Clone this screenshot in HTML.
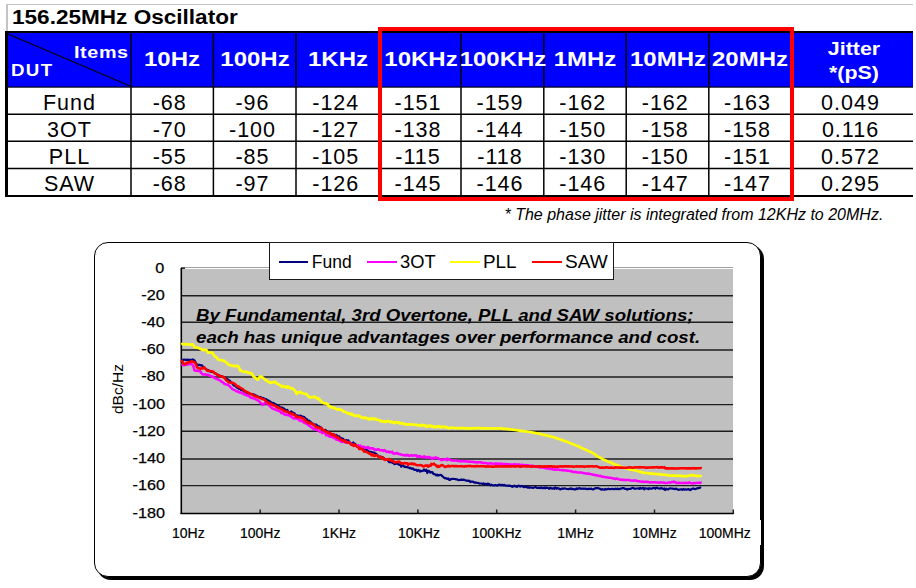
<!DOCTYPE html>
<html><head><meta charset="utf-8"><title>156.25MHz Oscillator</title>
<style>
*{margin:0;padding:0;box-sizing:border-box}
html,body{width:916px;height:588px;overflow:hidden;background:#fff}
body{position:relative;font-family:'Liberation Sans', Arial, sans-serif;color:#000}
.a{position:absolute}
.t{position:absolute;white-space:nowrap;line-height:1}
.hl{position:absolute;background:#000}
.hd{font-weight:bold;color:#fff;font-size:20.5px;transform:scaleX(1.17)}
.dt{font-size:21.5px;letter-spacing:1px;text-indent:1px}
</style></head><body>

<div class="a" style="left:6px;top:4px;width:907px;height:1px;background:#c4c4c4"></div>
<div class="a" style="left:6px;top:4px;width:1.5px;height:28px;background:#c4c4c4"></div>
<div class="t" style="left:11.5px;top:7px;font-weight:bold;font-size:20px;transform:scaleX(1.128);transform-origin:left center">156.25MHz Oscillator</div>
<div class="a" style="left:5px;top:31px;width:908px;height:56px;background:#0000fe"></div>
<svg class="a" style="left:0;top:0" width="916" height="210">
<rect x="5" y="31" width="908" height="2" fill="#000"/>
<rect x="5" y="31" width="3" height="166" fill="#000"/>
<rect x="5" y="86.5" width="908" height="1.2" fill="#000010"/>
<line x1="5" y1="114.15" x2="913" y2="114.15" stroke="#000" stroke-width="1.5"/>
<line x1="5" y1="141.35" x2="913" y2="141.35" stroke="#000" stroke-width="1.5"/>
<line x1="5" y1="168.5" x2="913" y2="168.5" stroke="#000" stroke-width="1.5"/>
<rect x="5" y="195" width="908" height="2" fill="#000"/>
<line x1="131.0" y1="31" x2="131.0" y2="197" stroke="#000" stroke-width="1.5"/>
<line x1="213.4" y1="31" x2="213.4" y2="197" stroke="#000" stroke-width="1.5"/>
<line x1="296.0" y1="31" x2="296.0" y2="197" stroke="#000" stroke-width="1.5"/>
<line x1="380.0" y1="31" x2="380.0" y2="197" stroke="#000" stroke-width="1.5"/>
<line x1="461.0" y1="31" x2="461.0" y2="197" stroke="#000" stroke-width="1.5"/>
<line x1="543.8" y1="31" x2="543.8" y2="197" stroke="#000" stroke-width="1.5"/>
<line x1="626.2" y1="31" x2="626.2" y2="197" stroke="#000" stroke-width="1.5"/>
<line x1="708.8" y1="31" x2="708.8" y2="197" stroke="#000" stroke-width="1.5"/>
<line x1="791.0" y1="31" x2="791.0" y2="197" stroke="#000" stroke-width="1.5"/>
<line x1="8" y1="34" x2="130" y2="86" stroke="#000" stroke-width="1.1"/>
</svg>
<div class="t hd" style="left:74px;top:44px;font-size:16.5px;letter-spacing:0.5px;transform:scaleX(1.2);transform-origin:left center">Items</div>
<div class="t hd" style="left:10.8px;top:61.5px;font-size:17px;letter-spacing:1.2px;transform:scaleX(1.1);transform-origin:left center">DUT</div>
<div class="t hd" style="left:112.25px;width:120px;text-align:center;top:48.8px">10Hz</div>
<div class="t hd" style="left:195.0px;width:120px;text-align:center;top:48.8px">100Hz</div>
<div class="t hd" style="left:278.25px;width:120px;text-align:center;top:48.8px">1KHz</div>
<div class="t hd" style="left:360.5px;width:120px;text-align:center;top:48.8px">10KHz</div>
<div class="t hd" style="left:442.5px;width:120px;text-align:center;top:48.8px">100KHz</div>
<div class="t hd" style="left:525.25px;width:120px;text-align:center;top:48.8px">1MHz</div>
<div class="t hd" style="left:607.75px;width:120px;text-align:center;top:48.8px">10MHz</div>
<div class="t hd" style="left:690.0px;width:120px;text-align:center;top:48.8px">20MHz</div>
<div class="t hd" style="left:793.5px;width:120px;text-align:center;top:40px;font-size:18px;transform:scaleX(1.19)">Jitter</div>
<div class="t hd" style="left:793.5px;width:120px;text-align:center;top:64px;font-size:18px;transform:scaleX(1.19)">*(pS)</div>
<div class="t dt" style="left:9.0px;width:120px;text-align:center;top:93.2px">Fund</div>
<div class="t dt" style="left:109.25px;width:120px;text-align:center;top:93.2px">-68</div>
<div class="t dt" style="left:192.0px;width:120px;text-align:center;top:93.2px">-96</div>
<div class="t dt" style="left:275.25px;width:120px;text-align:center;top:93.2px">-124</div>
<div class="t dt" style="left:357.5px;width:120px;text-align:center;top:93.2px">-151</div>
<div class="t dt" style="left:439.5px;width:120px;text-align:center;top:93.2px">-159</div>
<div class="t dt" style="left:522.25px;width:120px;text-align:center;top:93.2px">-162</div>
<div class="t dt" style="left:604.75px;width:120px;text-align:center;top:93.2px">-162</div>
<div class="t dt" style="left:687.0px;width:120px;text-align:center;top:93.2px">-163</div>
<div class="t dt" style="left:790.0px;width:120px;text-align:center;top:93.2px">0.049</div>
<div class="t dt" style="left:9.0px;width:120px;text-align:center;top:120.2px">3OT</div>
<div class="t dt" style="left:109.25px;width:120px;text-align:center;top:120.2px">-70</div>
<div class="t dt" style="left:192.0px;width:120px;text-align:center;top:120.2px">-100</div>
<div class="t dt" style="left:275.25px;width:120px;text-align:center;top:120.2px">-127</div>
<div class="t dt" style="left:357.5px;width:120px;text-align:center;top:120.2px">-138</div>
<div class="t dt" style="left:439.5px;width:120px;text-align:center;top:120.2px">-144</div>
<div class="t dt" style="left:522.25px;width:120px;text-align:center;top:120.2px">-150</div>
<div class="t dt" style="left:604.75px;width:120px;text-align:center;top:120.2px">-158</div>
<div class="t dt" style="left:687.0px;width:120px;text-align:center;top:120.2px">-158</div>
<div class="t dt" style="left:790.0px;width:120px;text-align:center;top:120.2px">0.116</div>
<div class="t dt" style="left:9.0px;width:120px;text-align:center;top:147.2px">PLL</div>
<div class="t dt" style="left:109.25px;width:120px;text-align:center;top:147.2px">-55</div>
<div class="t dt" style="left:192.0px;width:120px;text-align:center;top:147.2px">-85</div>
<div class="t dt" style="left:275.25px;width:120px;text-align:center;top:147.2px">-105</div>
<div class="t dt" style="left:357.5px;width:120px;text-align:center;top:147.2px">-115</div>
<div class="t dt" style="left:439.5px;width:120px;text-align:center;top:147.2px">-118</div>
<div class="t dt" style="left:522.25px;width:120px;text-align:center;top:147.2px">-130</div>
<div class="t dt" style="left:604.75px;width:120px;text-align:center;top:147.2px">-150</div>
<div class="t dt" style="left:687.0px;width:120px;text-align:center;top:147.2px">-151</div>
<div class="t dt" style="left:790.0px;width:120px;text-align:center;top:147.2px">0.572</div>
<div class="t dt" style="left:9.0px;width:120px;text-align:center;top:174.2px">SAW</div>
<div class="t dt" style="left:109.25px;width:120px;text-align:center;top:174.2px">-68</div>
<div class="t dt" style="left:192.0px;width:120px;text-align:center;top:174.2px">-97</div>
<div class="t dt" style="left:275.25px;width:120px;text-align:center;top:174.2px">-126</div>
<div class="t dt" style="left:357.5px;width:120px;text-align:center;top:174.2px">-145</div>
<div class="t dt" style="left:439.5px;width:120px;text-align:center;top:174.2px">-146</div>
<div class="t dt" style="left:522.25px;width:120px;text-align:center;top:174.2px">-146</div>
<div class="t dt" style="left:604.75px;width:120px;text-align:center;top:174.2px">-147</div>
<div class="t dt" style="left:687.0px;width:120px;text-align:center;top:174.2px">-147</div>
<div class="t dt" style="left:790.0px;width:120px;text-align:center;top:174.2px">0.295</div>
<div class="a" style="left:378px;top:27px;width:416px;height:174px;border:4px solid #ff0000"></div>
<div class="t" style="left:504.5px;top:207px;font-style:italic;font-size:16px">* The phase jitter is integrated from 12KHz to 20MHz.</div>
<div class="a" style="left:93.5px;top:242px;width:667.5px;height:335px;border:1.5px solid #000;border-radius:14px;box-shadow:3px 3px 0 #000;background:#fff"></div>
<svg class="a" style="left:0;top:0" width="916" height="588" viewBox="0 0 916 588">
<rect x="181" y="268" width="552" height="245" fill="#c0c0c0"/>
<line x1="181" y1="267.5" x2="733" y2="267.5" stroke="#a0a0a0" stroke-width="1"/>
<line x1="183" y1="268.5" x2="733" y2="268.5" stroke="#ffffff" stroke-width="1"/>
<line x1="181" y1="295.8" x2="733" y2="295.8" stroke="#1e1e1e" stroke-width="1.4"/>
<line x1="181" y1="322.3" x2="733" y2="322.3" stroke="#1e1e1e" stroke-width="1.4"/>
<line x1="181" y1="350.0" x2="733" y2="350.0" stroke="#1e1e1e" stroke-width="1.4"/>
<line x1="181" y1="377.0" x2="733" y2="377.0" stroke="#1e1e1e" stroke-width="1.4"/>
<line x1="181" y1="404.6" x2="733" y2="404.6" stroke="#1e1e1e" stroke-width="1.4"/>
<line x1="181" y1="431.2" x2="733" y2="431.2" stroke="#1e1e1e" stroke-width="1.4"/>
<line x1="181" y1="459.0" x2="733" y2="459.0" stroke="#1e1e1e" stroke-width="1.4"/>
<line x1="181" y1="485.6" x2="733" y2="485.6" stroke="#1e1e1e" stroke-width="1.4"/>
<line x1="181" y1="268.2" x2="185" y2="268.2" stroke="#000" stroke-width="1.2"/>
<line x1="260.2" y1="509.5" x2="260.2" y2="514" stroke="#222" stroke-width="1.5"/>
<line x1="339.0" y1="509.5" x2="339.0" y2="514" stroke="#222" stroke-width="1.5"/>
<line x1="417.9" y1="509.5" x2="417.9" y2="514" stroke="#222" stroke-width="1.5"/>
<line x1="496.7" y1="509.5" x2="496.7" y2="514" stroke="#222" stroke-width="1.5"/>
<line x1="575.6" y1="509.5" x2="575.6" y2="514" stroke="#222" stroke-width="1.5"/>
<line x1="654.5" y1="509.5" x2="654.5" y2="514" stroke="#222" stroke-width="1.5"/>
<line x1="733.3" y1="509.5" x2="733.3" y2="514" stroke="#222" stroke-width="1.5"/>
<line x1="181.3" y1="268" x2="181.3" y2="514" stroke="#000" stroke-width="1.6"/>
<line x1="180.5" y1="513.4" x2="733.5" y2="513.4" stroke="#000" stroke-width="1.5"/>
<polyline fill="none" stroke="#000080" stroke-width="2.2" stroke-linejoin="round" points="181.3,359.9 182.3,359.9 183.3,359.9 184.3,359.5 185.3,359.9 186.3,359.9 187.3,359.6 188.3,359.8 189.3,359.8 190.3,359.8 191.3,359.9 192.3,360.0 192.8,359.5 193.3,359.8 194.3,360.3 194.5,360.6 195.3,361.9 196.3,363.5 197.0,364.6 197.3,364.8 198.3,364.9 199.3,364.8 200.3,365.3 201.3,365.2 202.3,365.6 203.0,366.6 203.3,367.1 204.3,367.6 205.3,368.6 206.3,369.4 207.2,370.3 207.3,369.8 208.3,370.3 209.3,371.1 210.3,371.4 211.3,371.9 212.3,372.0 213.3,372.1 214.0,372.6 214.3,372.9 215.3,373.3 216.3,374.0 217.3,374.6 218.3,374.9 219.3,375.4 220.3,375.8 221.3,376.0 222.3,376.5 223.3,377.1 224.2,377.6 224.3,377.5 225.3,377.7 226.3,378.7 227.3,379.1 228.3,380.1 229.3,380.3 230.0,381.1 230.3,381.4 231.3,382.3 232.3,383.6 233.3,384.8 234.1,385.6 234.3,385.5 235.3,386.0 236.3,387.1 237.3,387.7 238.3,388.4 239.3,389.0 240.2,389.1 240.3,389.3 241.3,390.0 242.3,390.3 243.3,390.6 244.3,391.5 245.3,392.0 246.3,392.6 246.4,392.5 247.3,392.7 248.3,393.3 249.3,393.5 250.3,394.1 251.3,394.2 252.3,394.1 253.3,394.3 254.3,394.9 254.5,394.9 255.3,395.1 256.3,395.7 257.3,396.3 258.3,396.6 259.3,397.0 260.0,397.1 260.3,397.1 261.3,397.5 262.3,398.1 263.3,398.0 264.3,398.7 265.3,399.2 266.3,399.2 266.8,399.7 267.3,399.9 268.3,400.5 269.3,401.0 270.3,401.7 271.3,402.4 272.3,402.9 273.3,403.2 273.6,403.0 274.3,404.0 275.3,404.1 276.3,404.5 277.3,405.3 278.3,405.8 279.3,406.5 280.3,407.3 281.3,407.5 282.3,407.7 283.3,408.8 284.3,408.5 285.3,410.0 286.3,411.1 287.2,410.2 287.3,409.9 288.3,412.1 289.3,413.2 290.3,411.8 291.3,411.4 292.3,412.8 293.3,412.7 294.3,413.3 295.3,414.5 296.3,415.6 297.3,415.4 298.3,416.0 299.3,415.8 300.3,415.6 300.8,415.9 301.3,415.9 302.3,417.1 303.3,416.7 304.3,417.0 305.3,419.0 306.3,418.9 307.3,419.9 308.3,421.0 309.3,420.7 310.3,421.7 311.3,422.5 312.3,423.4 313.3,423.9 314.3,425.2 314.4,424.6 315.3,424.6 316.3,424.7 317.3,425.5 318.3,427.3 319.3,426.4 320.3,428.1 321.3,427.6 322.3,429.3 323.3,430.4 324.3,430.0 325.3,429.9 326.3,430.9 327.3,431.3 328.0,432.0 328.3,433.2 329.3,433.0 330.3,433.3 331.3,433.9 332.3,434.1 333.3,434.3 334.3,434.8 335.3,435.4 336.3,434.8 337.3,437.0 338.3,436.3 339.3,436.4 340.0,437.8 340.3,438.1 341.3,438.2 342.3,438.7 343.3,438.8 344.3,441.6 345.3,441.2 346.3,440.1 347.3,440.6 348.2,441.1 348.3,440.3 349.3,442.2 350.3,442.5 351.3,444.0 352.3,444.2 353.3,442.5 354.3,444.2 355.3,443.9 356.3,446.0 357.3,445.9 358.3,446.8 359.3,446.4 360.3,448.3 361.3,448.8 362.3,447.9 363.3,449.1 364.3,449.5 365.3,450.3 366.3,449.7 367.2,452.0 367.3,450.3 368.3,451.2 369.3,452.1 370.3,451.8 371.3,451.9 372.3,452.3 373.3,452.8 374.3,452.7 375.3,453.4 376.3,454.0 377.3,455.1 378.1,455.6 378.3,456.0 379.3,457.0 380.3,456.5 381.3,456.9 382.3,457.2 383.3,457.8 384.3,458.4 385.3,459.9 386.3,459.3 387.3,460.0 388.3,461.1 389.3,462.2 390.3,462.2 391.3,461.6 392.3,462.8 393.3,463.2 394.3,462.9 394.4,464.2 395.3,463.9 396.3,463.2 397.3,463.8 398.3,464.2 399.3,464.8 400.3,464.5 401.3,466.7 402.3,465.6 403.3,465.6 404.3,466.8 405.3,466.7 406.3,467.2 407.3,466.9 408.3,467.6 409.3,468.1 410.3,467.8 411.3,468.8 412.3,468.4 413.3,468.5 413.5,469.3 414.3,469.8 415.3,469.8 416.3,469.7 417.3,471.1 418.3,470.0 419.3,470.7 420.0,471.7 420.3,470.7 421.3,471.2 422.3,470.9 423.3,470.7 424.0,469.5 424.3,470.0 425.3,470.9 426.3,469.7 427.3,473.0 428.3,470.9 429.3,471.1 430.3,472.6 431.3,472.2 432.3,472.1 433.3,473.7 433.6,474.1 434.3,474.0 435.3,474.4 436.3,475.4 437.3,474.6 438.3,475.6 439.3,475.2 440.3,474.8 441.3,475.1 442.3,476.3 443.3,476.9 444.3,478.2 445.3,478.1 446.3,478.6 447.2,478.6 447.3,479.0 448.3,478.4 449.3,480.0 450.3,479.8 451.3,478.9 452.3,479.0 453.3,478.9 454.3,479.0 455.3,479.0 456.3,479.5 457.3,479.3 458.3,480.2 459.3,480.0 460.3,479.9 460.8,480.0 461.3,479.4 462.3,480.0 463.3,479.7 464.3,479.9 465.3,480.3 466.3,480.6 467.3,480.5 468.3,481.0 469.3,480.7 470.3,482.0 471.3,481.5 472.3,481.6 473.3,481.9 474.3,482.5 474.4,482.7 475.3,482.4 476.3,482.7 477.3,483.0 478.3,482.9 479.3,483.6 480.3,483.5 481.3,483.5 482.3,483.9 483.3,483.4 484.3,484.1 485.3,483.8 486.3,484.0 487.3,484.4 488.0,483.5 488.3,484.3 489.3,484.2 490.3,485.4 491.3,484.6 492.3,485.2 493.3,485.4 493.5,485.5 494.3,485.5 495.3,485.0 496.3,485.3 497.3,485.7 498.3,485.0 499.3,484.5 500.0,485.2 500.3,484.9 501.3,485.3 502.3,484.8 503.3,485.4 504.3,484.9 505.3,485.6 506.3,485.5 507.3,485.7 508.3,485.9 509.3,485.6 510.3,485.8 511.3,486.2 512.3,486.8 513.3,486.4 514.3,485.7 515.3,486.3 516.3,486.4 517.3,486.9 518.3,485.6 519.3,485.9 520.3,486.7 521.3,485.9 522.3,486.3 523.3,486.9 524.3,487.2 525.3,486.7 526.3,486.9 527.2,487.1 527.3,487.6 528.3,487.1 529.3,487.8 530.3,487.3 531.3,487.6 532.3,487.6 533.3,487.8 534.3,487.4 535.3,486.9 536.3,487.4 537.3,487.9 538.3,487.8 539.3,487.7 540.3,488.1 541.3,487.4 542.3,488.2 543.3,488.2 544.3,487.5 545.3,488.3 546.3,487.4 547.3,487.9 548.3,488.0 549.3,488.8 550.3,487.6 551.3,488.3 552.3,488.6 553.3,488.3 554.3,488.8 554.4,487.9 555.3,487.4 556.3,488.7 557.3,488.1 558.3,488.6 559.3,488.5 560.3,489.5 561.3,489.1 562.3,488.4 563.3,488.8 564.3,488.4 565.3,488.5 566.3,488.8 567.3,489.0 568.3,489.1 569.3,488.9 570.3,488.4 571.3,489.1 572.3,488.6 573.3,489.2 574.3,489.3 575.3,489.4 576.3,488.5 577.3,489.2 578.3,488.4 579.3,488.3 580.0,488.2 580.3,488.7 581.3,488.8 582.3,488.5 583.3,488.6 584.3,488.8 585.3,488.5 586.3,488.9 587.3,489.2 588.3,488.7 589.3,488.8 590.3,488.8 591.3,488.6 592.3,489.2 593.3,489.5 594.3,488.7 595.3,488.3 596.3,488.1 597.3,488.1 598.3,488.2 599.3,488.6 600.3,488.8 601.3,489.7 602.3,489.1 603.3,489.5 604.3,489.8 605.3,488.9 606.3,489.4 607.3,489.1 608.3,488.7 609.3,489.1 610.3,489.2 611.3,489.0 612.3,488.8 613.3,489.1 614.3,489.1 615.3,488.7 616.3,489.2 617.3,488.6 618.3,489.1 619.3,489.2 620.0,488.9 620.3,488.7 621.3,488.6 622.3,488.2 623.3,488.1 624.3,488.4 625.3,488.9 626.3,488.8 627.3,489.7 628.3,488.8 629.3,489.0 630.3,488.9 631.3,488.4 632.3,487.9 633.3,487.9 634.3,488.6 635.3,488.8 636.3,488.5 637.3,488.5 638.3,488.3 639.3,488.9 640.3,487.8 641.3,488.6 642.3,488.3 643.3,487.8 644.3,489.4 645.3,488.2 646.3,488.5 647.3,488.6 648.3,489.1 649.3,488.1 650.3,488.7 651.3,488.6 652.3,488.5 653.3,487.8 654.3,487.9 655.3,488.8 656.3,487.6 657.3,487.9 658.3,488.3 659.3,488.6 660.3,488.4 660.4,488.5 661.3,487.8 662.3,488.6 663.3,488.9 664.3,488.4 664.5,489.8 665.3,490.0 666.3,488.7 667.3,489.2 668.3,489.5 669.3,488.5 670.3,488.3 671.3,488.5 672.3,488.6 673.3,488.7 674.3,489.1 675.3,488.9 676.3,488.7 677.3,489.3 678.3,489.8 679.3,489.6 680.3,489.5 681.3,489.2 682.3,489.8 683.3,489.0 684.3,489.7 685.3,489.3 686.3,489.6 687.3,489.5 688.3,489.0 689.3,489.7 690.3,490.1 691.0,489.4 691.3,489.2 692.3,488.8 693.3,488.4 694.3,489.0 695.3,489.1 696.3,488.7 697.3,488.3 698.3,488.1 699.3,487.9 700.3,487.5 701.2,487.8"/>
<polyline fill="none" stroke="#ff00ff" stroke-width="2.5" stroke-linejoin="round" points="181.3,364.2 182.3,364.6 183.3,365.3 184.3,365.2 185.3,364.6 186.3,364.8 187.3,364.5 188.3,364.4 189.3,363.8 190.3,364.0 191.3,363.9 191.9,364.2 192.3,364.7 193.3,366.3 193.6,366.4 194.3,370.2 194.5,370.3 195.3,370.8 196.3,370.6 197.3,370.7 198.3,371.0 199.3,371.1 200.3,371.5 200.4,371.4 201.3,373.1 202.1,373.7 202.3,374.2 203.3,374.4 204.3,374.6 205.3,374.3 206.3,374.7 207.3,374.8 208.1,374.7 208.3,375.1 209.3,375.4 210.3,376.0 211.3,376.3 212.3,376.4 213.3,377.0 214.3,377.7 215.3,378.5 216.3,379.0 216.6,378.9 217.3,379.1 218.3,379.5 219.3,380.1 220.3,380.5 220.8,381.0 221.3,381.6 222.3,382.0 223.3,382.8 224.3,383.7 225.1,384.2 225.3,384.2 226.3,384.6 227.3,384.8 228.0,384.6 228.3,385.1 229.3,385.8 230.3,386.9 231.3,388.0 232.1,388.9 232.3,389.0 233.3,389.5 234.3,389.9 235.3,390.6 236.2,390.9 236.3,391.3 237.3,391.4 238.3,391.6 239.3,392.5 240.3,392.5 241.3,392.6 242.3,393.5 243.3,393.6 244.3,394.4 245.3,394.7 246.3,395.3 247.3,395.5 247.4,395.3 248.3,395.9 249.3,396.5 250.3,397.2 251.3,398.1 252.3,397.8 252.5,398.1 253.3,398.3 254.3,398.7 255.3,399.1 256.3,399.6 257.3,400.1 258.3,400.7 258.6,401.0 259.3,401.5 260.3,402.7 261.3,403.4 262.3,404.4 262.7,405.0 263.3,404.5 264.3,403.6 265.3,402.7 265.8,402.2 266.3,402.9 267.3,403.8 268.3,404.6 269.3,405.6 270.3,406.4 270.9,407.1 271.3,407.2 272.3,408.4 273.3,408.8 273.6,408.9 274.3,409.2 275.3,409.5 276.3,409.8 277.3,410.5 278.0,410.6 278.3,410.6 279.3,411.3 280.3,411.3 281.3,413.1 282.3,412.5 283.3,413.4 284.3,414.4 285.3,414.9 286.3,414.5 287.2,414.5 287.3,414.8 288.3,415.4 289.3,415.0 290.3,416.0 291.3,417.1 292.3,417.4 293.3,418.3 294.3,418.7 295.3,418.2 296.3,418.7 297.3,417.9 298.3,419.2 299.3,420.5 300.3,419.8 300.8,421.0 301.3,421.1 302.3,421.2 303.3,421.9 304.3,423.0 305.3,423.0 306.3,423.6 307.3,424.2 308.3,424.9 309.3,425.9 310.3,426.1 311.3,427.5 311.7,427.2 312.3,427.8 313.3,428.7 314.3,428.9 315.3,429.2 316.3,430.0 317.3,430.0 318.3,430.5 319.3,431.4 320.3,431.9 321.3,432.0 322.3,433.2 323.3,432.7 324.3,432.2 325.3,433.7 326.3,435.3 327.3,435.3 328.0,435.5 328.3,435.2 329.3,436.5 330.3,436.8 331.3,436.7 332.3,436.9 333.3,437.9 334.3,438.0 335.3,437.8 336.3,439.7 337.3,439.8 338.3,440.1 339.3,440.8 340.0,440.7 340.3,439.6 341.3,441.9 342.3,441.7 343.3,441.7 344.3,441.9 345.3,442.5 346.3,441.8 347.3,442.7 348.2,442.5 348.3,442.2 349.3,442.8 350.3,443.0 351.3,444.3 352.3,445.0 353.3,444.8 354.3,445.3 355.3,445.1 356.3,446.2 357.3,446.7 358.3,445.3 359.3,446.8 360.3,445.6 361.3,446.6 362.3,447.3 363.3,446.7 364.3,446.8 365.3,447.9 366.3,447.9 367.2,447.1 367.3,447.7 368.3,447.1 369.3,448.7 370.3,448.2 371.3,448.3 372.3,448.5 373.3,448.3 374.3,449.5 375.3,449.9 376.3,449.5 377.3,449.7 378.3,449.1 379.3,449.8 380.3,450.3 380.8,450.1 381.3,450.2 382.3,450.3 383.3,450.9 384.3,450.1 385.3,450.7 386.3,451.9 387.3,451.7 388.3,451.5 389.3,452.4 390.3,451.8 391.3,452.4 392.3,451.8 393.3,453.5 394.3,453.5 394.4,453.8 395.3,453.6 396.3,453.1 397.3,453.1 398.3,453.9 399.3,453.9 400.3,454.3 401.3,454.6 402.3,455.1 403.3,455.1 404.3,455.4 405.3,454.9 406.3,455.5 407.3,454.8 408.0,455.5 408.3,455.1 409.3,456.1 410.3,455.7 411.3,455.2 412.3,455.7 413.3,455.5 414.3,455.3 415.3,455.6 416.3,455.3 417.3,456.9 418.3,456.1 419.3,456.7 420.0,456.0 420.3,456.8 421.3,457.0 422.3,456.9 423.3,457.2 424.3,456.3 425.3,457.1 426.3,457.7 427.3,456.9 428.3,457.6 429.3,457.0 430.3,457.9 431.3,457.8 432.3,458.8 433.3,457.8 433.6,457.8 434.3,458.3 435.3,457.3 436.3,457.9 437.3,457.9 438.3,458.2 439.3,459.1 440.3,459.3 441.3,460.2 442.3,459.8 443.3,459.8 444.3,459.1 445.3,459.5 446.3,459.6 447.2,458.7 447.3,460.3 448.3,459.1 449.3,459.4 450.3,460.0 451.3,460.5 452.3,460.6 453.3,460.4 454.3,460.7 455.3,460.6 456.3,460.6 457.3,460.9 458.3,461.0 459.3,460.9 460.3,461.4 460.8,461.1 461.3,461.4 462.3,461.1 463.3,461.2 464.3,461.2 465.3,461.4 466.3,461.1 467.3,461.5 468.3,461.8 469.3,461.5 470.3,461.7 471.3,461.8 472.3,461.7 473.3,462.0 474.3,462.0 474.4,462.3 475.3,462.2 476.3,462.2 477.3,462.5 478.3,462.2 479.3,462.3 480.3,462.3 481.3,462.5 482.3,462.7 483.3,462.9 484.3,463.1 485.3,462.9 486.3,463.3 487.3,463.5 488.0,463.4 488.3,463.4 489.3,463.5 490.3,463.3 491.3,463.5 492.3,463.6 493.3,463.9 494.3,463.8 495.3,463.5 496.3,463.7 497.3,463.5 498.3,463.8 499.3,463.8 500.0,463.7 500.3,463.8 501.3,463.6 502.3,464.1 503.3,463.9 504.3,463.9 505.3,464.3 506.3,464.1 507.3,464.2 508.3,464.3 509.3,464.2 510.3,464.8 511.3,464.5 512.3,464.6 513.3,464.7 514.3,464.1 515.3,464.6 516.3,464.5 517.3,464.5 518.3,464.8 519.3,464.5 520.3,464.9 521.3,465.1 522.3,464.7 523.3,465.0 524.3,465.2 525.3,465.2 526.3,465.1 527.2,465.3 527.3,465.3 528.3,465.3 529.3,465.8 530.3,465.7 531.3,465.7 532.3,465.7 533.3,466.1 534.3,466.2 535.3,466.7 536.3,466.3 537.3,466.8 538.3,467.1 539.3,467.2 540.3,467.5 540.8,467.6 541.3,467.4 542.3,467.2 543.3,467.5 544.3,468.0 545.3,468.0 546.3,468.4 547.3,468.4 548.3,468.6 549.3,468.7 550.3,469.0 551.3,468.9 552.3,469.2 553.3,469.5 554.3,469.4 554.4,469.7 555.3,469.2 556.3,469.8 557.3,469.5 558.3,469.6 559.3,469.8 560.3,470.1 561.3,470.1 562.3,470.2 563.3,470.1 564.3,470.5 565.3,470.3 566.3,470.4 567.3,470.7 568.0,470.7 568.3,470.6 569.3,470.9 570.3,471.2 571.3,471.0 572.3,471.6 573.3,472.0 574.3,471.8 575.3,472.1 576.3,472.0 577.3,472.4 578.3,472.4 579.3,472.6 580.0,472.4 580.3,472.4 581.3,472.6 582.3,472.8 583.3,473.1 584.3,473.3 585.3,473.4 586.3,473.6 587.3,473.8 588.3,473.4 589.3,473.9 590.3,473.9 590.9,474.1 591.3,474.2 592.3,474.6 593.3,474.8 594.3,474.9 595.3,474.9 596.3,475.5 597.3,475.3 598.3,475.7 599.3,476.0 600.3,475.7 601.3,476.4 601.8,476.7 602.3,476.5 603.3,476.8 604.3,476.9 605.3,477.2 606.3,477.3 607.3,477.5 608.3,477.7 609.3,477.7 610.3,477.7 611.3,478.1 612.3,478.2 612.7,478.4 613.3,478.3 614.3,478.8 615.3,479.0 616.3,478.4 617.3,478.8 618.3,479.0 619.3,479.4 620.3,479.7 621.3,479.5 622.3,479.7 623.3,480.0 623.5,479.7 624.3,480.1 625.3,480.0 626.3,480.1 627.3,480.1 628.3,480.1 629.3,480.1 630.3,480.4 631.3,480.5 632.3,480.5 633.3,480.7 634.3,480.4 634.4,480.3 635.3,480.5 636.3,480.7 637.3,480.9 638.3,481.3 639.3,481.3 640.3,481.6 641.3,481.7 642.3,481.6 643.3,482.0 644.0,481.8 644.3,481.8 645.3,481.8 646.3,481.9 647.3,481.8 648.3,482.0 649.3,482.2 650.3,482.4 651.3,482.3 652.3,482.2 653.3,482.3 654.3,482.3 655.3,482.3 656.3,482.4 657.3,482.5 658.3,482.5 659.3,482.7 660.3,482.3 661.3,482.4 662.3,482.6 663.3,482.4 664.3,482.7 664.5,482.8 665.3,483.0 666.3,483.0 667.3,482.9 668.3,482.6 669.3,482.5 670.3,482.7 671.0,482.3 671.3,482.4 672.3,481.9 673.3,481.8 673.7,481.6 674.3,482.2 675.3,482.0 676.3,483.1 676.7,482.8 677.3,483.0 678.3,483.0 679.3,482.8 680.3,483.0 681.3,483.0 682.3,483.0 683.3,482.9 684.3,483.0 685.3,483.0 686.3,482.7 687.3,483.1 688.3,482.9 689.3,482.4 690.3,482.8 691.3,483.3 692.3,483.4 693.3,483.3 694.3,482.9 695.3,483.2 696.3,483.1 697.3,483.0 698.3,482.8 699.3,482.7 700.3,482.9 701.3,482.6 701.7,482.7"/>
<polyline fill="none" stroke="#ffff00" stroke-width="2.7" stroke-linejoin="round" points="181.3,344.6 182.3,343.9 183.3,344.4 184.3,344.1 185.3,344.3 186.3,344.3 187.3,344.0 188.3,344.4 189.3,344.3 190.3,345.0 191.3,344.4 192.3,344.3 192.8,344.3 193.3,345.0 194.3,346.8 194.5,347.2 195.3,347.4 196.3,347.5 197.3,347.7 198.3,347.8 199.3,348.0 199.6,348.4 200.3,348.7 201.3,349.2 202.1,349.8 202.3,349.8 203.3,350.1 204.3,349.8 205.3,349.9 206.3,350.2 206.4,349.9 207.3,351.4 208.1,352.7 208.3,352.6 209.3,352.6 210.3,352.8 211.3,352.3 212.3,352.9 213.3,354.2 214.0,355.4 214.3,355.8 215.3,356.6 216.3,357.1 216.6,357.3 217.3,358.3 218.3,359.6 219.3,360.0 220.3,360.1 221.3,360.1 222.3,360.5 223.3,360.5 223.4,360.3 224.3,361.2 225.3,361.8 225.9,362.1 226.3,362.4 227.3,363.5 228.3,364.1 228.5,364.7 229.3,365.0 230.3,365.1 231.3,365.7 232.1,365.9 232.3,366.1 233.3,365.7 234.3,365.8 235.3,366.1 236.3,366.1 237.3,365.7 238.2,366.0 238.3,366.4 239.3,368.3 240.2,370.6 240.3,370.3 241.3,370.9 242.3,371.1 243.3,371.7 244.3,371.8 245.3,371.8 246.3,371.7 247.3,372.4 248.3,372.6 249.3,372.9 250.3,373.3 251.3,373.3 251.5,373.2 252.3,374.4 253.3,375.9 253.5,376.6 254.3,376.8 255.3,377.9 256.3,378.7 257.3,379.6 257.6,379.9 258.3,378.7 259.3,377.4 260.3,376.5 260.7,376.2 261.3,376.7 262.3,377.3 263.3,378.0 263.7,378.5 264.3,378.9 265.3,379.9 266.3,380.4 266.8,380.9 267.3,381.1 268.3,381.7 269.3,382.1 270.3,382.8 270.9,382.9 271.3,382.8 272.3,382.1 273.3,382.3 274.3,381.9 274.9,382.0 275.3,381.8 276.3,383.0 277.3,383.9 278.0,384.0 278.3,384.1 279.3,384.7 280.3,385.3 281.3,386.0 281.8,386.9 282.3,386.0 283.3,386.5 284.3,386.4 285.3,387.3 286.3,387.0 287.2,387.5 287.3,386.3 288.3,386.8 289.3,387.3 290.3,388.2 291.3,388.5 292.3,388.3 292.7,388.3 293.3,389.2 294.3,389.9 295.3,391.2 296.3,392.6 296.7,394.0 297.3,392.7 298.3,392.4 299.3,392.1 300.3,391.7 300.8,392.5 301.3,393.0 302.3,393.1 303.3,393.5 304.3,393.7 305.3,394.0 306.3,393.9 307.3,395.2 308.3,396.3 309.3,396.9 310.3,397.6 311.3,397.3 312.3,397.0 313.3,397.1 314.3,396.5 314.4,396.4 315.3,397.4 316.3,397.9 317.3,398.7 318.3,398.0 318.5,399.1 319.3,399.3 320.3,400.3 321.3,401.5 322.3,402.4 322.6,402.7 323.3,402.7 324.3,403.5 325.3,403.2 326.3,403.4 327.3,404.3 328.0,404.4 328.3,405.7 329.3,406.1 330.3,407.3 331.3,406.9 332.3,407.2 333.3,408.0 333.5,408.0 334.3,407.7 335.3,408.7 336.3,408.9 337.3,409.7 338.3,409.1 339.3,409.7 340.0,409.1 340.3,409.3 341.3,409.9 342.3,410.3 343.3,411.4 344.3,412.0 345.3,411.8 346.3,412.5 347.3,413.3 348.3,413.2 349.3,413.8 350.3,413.9 350.9,413.6 351.3,414.8 352.3,414.1 353.3,415.3 354.3,415.4 355.3,416.1 356.3,415.8 357.3,415.4 358.3,416.1 359.3,415.8 360.3,416.5 361.3,417.4 361.8,417.6 362.3,417.8 363.3,417.7 364.3,418.1 365.3,417.4 366.3,418.4 367.3,418.2 368.3,419.0 369.3,419.5 370.3,418.2 371.3,419.1 372.3,419.0 372.7,418.4 373.3,419.1 374.3,418.9 375.3,418.6 376.3,419.4 377.3,419.7 378.3,420.0 379.3,420.1 380.3,420.9 381.3,421.5 382.3,421.0 383.3,421.4 383.5,421.6 384.3,421.1 385.3,422.2 386.3,421.5 387.3,421.0 388.3,421.3 389.3,421.4 390.3,422.3 391.3,421.5 392.3,422.0 393.3,422.6 394.3,422.3 394.4,423.1 395.3,422.0 396.3,422.2 397.3,422.3 398.3,422.8 399.3,422.3 400.3,423.6 401.3,423.2 402.3,423.5 403.3,423.6 404.3,423.9 405.3,424.5 406.3,424.5 407.3,424.4 408.0,424.6 408.3,424.4 409.3,424.2 410.3,424.4 411.3,424.5 412.3,424.3 413.3,424.7 414.3,425.0 415.3,424.7 416.3,424.6 417.3,425.1 418.3,425.7 419.3,425.0 420.0,425.2 420.3,425.4 421.3,425.8 422.3,424.6 423.3,425.3 424.3,425.8 425.3,425.3 426.3,426.6 427.3,426.3 428.3,425.7 429.3,426.2 430.3,425.5 431.3,426.1 432.3,427.1 433.3,426.1 434.3,427.1 435.3,426.5 436.3,427.1 437.3,426.8 438.3,426.1 439.3,426.8 440.3,427.3 440.4,426.8 441.3,426.7 442.3,427.1 443.3,426.9 444.3,426.5 445.3,426.9 446.3,427.7 447.3,427.3 448.3,428.0 449.3,428.5 450.3,427.8 451.3,427.7 452.3,427.7 453.3,427.9 454.3,428.0 455.3,428.1 456.3,428.1 457.3,428.0 458.3,428.1 459.3,428.0 460.3,428.1 460.8,428.0 461.3,428.0 462.3,428.1 463.3,428.1 464.3,428.2 465.3,428.3 466.3,428.2 467.3,428.5 468.3,428.3 469.3,428.2 470.3,428.4 471.3,428.4 472.3,428.3 473.3,428.4 474.3,428.2 475.3,428.0 476.3,428.2 477.3,428.1 478.3,428.2 479.3,428.2 480.3,428.2 481.3,428.4 482.3,428.2 483.3,428.3 484.3,428.4 485.3,428.3 486.3,428.3 487.3,428.3 488.3,428.4 489.3,428.3 490.3,428.5 491.3,428.5 492.3,428.6 493.3,428.5 494.3,428.4 495.3,428.5 496.3,428.5 497.3,428.4 498.3,428.4 499.3,428.5 500.0,428.4 500.3,428.5 501.3,428.3 502.3,428.6 503.3,428.9 504.3,428.8 505.3,428.9 506.3,428.9 507.3,429.2 508.3,429.2 509.3,429.1 510.3,429.4 511.3,429.5 512.3,429.7 513.3,429.6 513.6,429.9 514.3,429.9 515.3,430.0 516.3,430.1 517.3,430.2 518.3,430.5 519.3,430.6 520.3,430.8 521.3,430.9 522.3,431.1 523.3,431.2 524.3,431.3 525.3,431.2 526.3,431.5 527.2,431.7 527.3,431.6 528.3,431.8 529.3,432.0 530.3,432.1 531.3,432.3 532.3,432.6 533.3,432.7 534.3,432.8 535.3,433.0 536.3,433.3 537.3,433.5 538.3,433.6 539.3,433.6 540.3,434.0 540.8,434.1 541.3,434.2 542.3,434.5 543.3,434.8 544.3,434.9 545.3,435.3 546.3,435.3 547.3,435.8 548.3,435.9 549.3,436.2 550.3,436.1 551.3,436.6 552.3,436.9 553.3,437.0 554.3,437.3 554.4,437.4 555.3,437.7 556.3,438.0 557.3,438.4 558.3,438.8 559.3,439.2 560.3,439.5 561.3,439.8 562.3,440.3 563.3,440.7 564.3,440.8 565.3,441.2 566.3,441.6 567.3,441.8 568.0,442.1 568.3,442.3 569.3,442.8 570.3,443.1 571.3,443.6 572.3,443.8 573.3,444.4 574.3,444.6 575.3,445.1 576.3,445.6 577.3,445.9 578.3,446.3 579.3,446.7 580.0,447.1 580.3,447.2 581.3,447.7 582.3,448.3 583.3,448.6 584.3,449.1 585.3,449.5 586.3,450.1 587.3,450.5 588.3,451.0 589.3,451.3 590.3,451.7 590.9,452.1 591.3,452.2 592.3,452.9 593.3,453.4 594.3,453.9 595.3,454.7 596.3,455.4 597.3,456.2 598.3,456.9 599.3,457.2 600.3,457.8 601.3,458.2 601.8,458.8 602.3,459.0 603.3,459.4 604.3,460.0 605.3,460.3 606.3,460.8 607.3,461.2 608.3,461.5 609.3,462.1 610.3,462.5 611.3,462.7 612.3,463.1 612.7,463.5 613.3,463.7 614.3,464.1 615.3,464.6 616.3,464.9 617.3,465.2 618.3,465.7 619.3,466.0 620.3,466.4 621.3,466.8 622.3,467.1 623.3,467.5 623.5,467.7 624.3,467.9 625.3,467.9 626.3,468.4 627.3,468.6 628.3,469.0 629.3,469.1 630.3,469.4 631.3,469.6 632.3,470.0 633.3,470.0 634.3,470.3 634.4,470.3 635.3,470.5 636.3,470.8 637.3,471.0 638.3,471.3 639.3,471.7 640.0,471.6 640.3,471.7 641.3,472.1 642.3,472.6 643.0,472.8 643.3,472.8 644.3,472.9 645.3,473.0 646.3,473.0 647.3,473.1 648.3,473.2 649.3,473.4 650.3,473.6 651.3,473.6 652.3,473.7 653.3,473.8 654.3,473.8 655.3,474.0 656.3,474.0 657.3,474.2 658.3,474.2 659.3,474.1 660.3,474.4 661.3,474.6 662.3,474.5 663.3,474.7 664.3,474.8 664.5,474.9 665.3,474.7 666.3,475.1 667.3,475.1 668.3,475.4 669.3,475.5 670.3,475.6 670.6,475.6 671.3,475.7 672.3,475.5 673.3,475.6 674.3,475.6 675.3,475.5 676.3,475.9 677.3,475.8 678.3,475.6 679.3,475.8 680.3,475.6 680.8,475.7 681.3,476.1 682.3,476.2 683.3,476.1 684.3,476.1 684.9,476.4 685.3,476.5 686.3,476.1 687.3,476.0 688.3,475.8 689.3,475.5 690.3,475.4 691.0,475.2 691.3,475.2 692.3,475.3 693.3,475.2 694.3,475.5 695.3,475.6 696.3,475.9 697.3,476.1 698.3,475.9 699.3,475.8 700.3,476.0 701.3,476.2 701.7,476.3"/>
<polyline fill="none" stroke="#ff0000" stroke-width="2.6" stroke-linejoin="round" points="181.3,360.1 182.3,361.5 183.3,363.1 184.3,364.3 185.3,364.2 186.3,363.3 186.8,362.6 187.3,362.7 188.3,362.4 189.3,362.0 190.3,362.0 191.3,361.5 191.9,361.2 192.3,361.2 193.3,361.9 194.3,362.3 195.3,363.0 196.3,365.3 197.0,367.2 197.3,367.2 198.3,368.0 199.3,368.4 200.3,368.8 200.4,369.0 201.3,368.4 202.3,368.4 203.3,368.3 203.8,367.3 204.3,367.6 205.3,368.5 206.3,369.8 207.2,370.5 207.3,370.8 208.3,371.0 209.3,370.8 209.8,371.0 210.3,371.1 211.3,371.3 212.3,371.2 213.2,371.6 213.3,371.7 214.3,373.0 215.3,373.5 215.7,373.7 216.3,374.0 217.3,374.9 218.3,375.2 219.1,375.9 219.3,375.4 220.3,376.2 221.3,376.5 222.3,376.4 223.3,377.1 224.2,377.6 224.3,377.5 225.3,378.9 226.3,380.2 227.3,381.0 228.0,381.7 228.3,381.7 229.3,382.5 230.3,382.5 231.3,382.6 232.1,382.7 232.3,382.8 233.3,383.1 234.3,383.7 235.3,384.3 236.3,385.6 237.3,386.0 238.2,386.8 238.3,386.5 239.3,387.0 240.3,387.9 241.3,388.4 242.3,388.9 243.3,389.5 244.3,390.7 245.3,391.2 246.3,391.8 246.4,391.7 247.3,392.1 248.3,392.8 249.3,393.2 250.3,393.6 251.3,394.2 252.3,394.5 253.3,395.3 254.3,395.9 254.5,395.6 255.3,396.4 256.3,396.3 257.3,396.9 258.3,397.2 259.3,397.8 260.3,398.2 260.7,398.3 261.3,398.5 262.3,399.0 263.3,399.3 264.3,399.5 264.7,399.9 265.3,400.5 266.3,401.4 267.3,402.3 268.3,403.1 268.8,403.0 269.3,403.2 270.3,403.9 271.3,403.9 272.3,404.8 273.3,405.0 274.3,405.8 275.3,405.9 276.3,407.0 277.3,407.2 278.0,407.3 278.3,407.9 279.3,408.1 280.3,408.5 281.3,408.9 282.3,409.5 283.3,410.4 284.3,411.0 285.3,411.5 286.3,411.5 287.2,411.8 287.3,411.9 288.3,412.0 289.3,412.7 290.3,413.1 291.3,413.8 292.3,414.4 293.3,413.9 294.3,415.2 295.3,415.2 296.3,417.0 297.3,416.7 298.3,417.1 299.3,417.0 300.3,417.2 300.8,417.3 301.3,417.7 302.3,418.4 303.3,418.2 304.3,420.0 305.3,420.0 306.3,422.0 307.3,421.7 308.3,423.1 309.3,422.3 310.3,423.5 311.3,423.3 312.3,423.9 313.3,424.6 314.3,425.0 314.4,425.6 315.3,426.4 316.3,427.1 317.3,427.7 318.3,427.2 319.3,428.0 320.3,428.6 321.3,427.8 322.3,429.7 323.3,429.9 324.3,430.4 325.3,431.5 326.3,432.1 327.3,432.4 328.0,431.9 328.3,432.9 329.3,433.4 330.3,433.3 331.3,435.0 332.3,435.0 333.3,434.1 334.3,435.8 335.3,435.4 336.3,437.0 337.3,437.7 338.3,437.4 339.3,438.4 340.0,439.3 340.3,439.1 341.3,440.1 342.3,440.2 343.3,440.4 344.3,441.4 345.3,440.7 346.3,442.2 347.3,442.5 348.3,442.4 349.3,442.6 350.3,443.6 351.3,444.8 352.3,444.6 353.3,444.7 353.6,446.0 354.3,444.5 355.3,445.7 356.3,445.6 357.3,446.8 358.3,447.2 359.3,449.0 360.3,449.0 361.3,448.8 362.3,449.1 363.3,450.4 364.3,451.7 365.3,451.4 366.3,451.7 367.2,452.2 367.3,452.4 368.3,453.0 369.3,453.6 370.3,453.3 371.3,455.1 372.3,455.5 373.3,454.3 374.3,456.0 375.3,455.5 376.3,455.4 377.3,455.3 378.3,456.9 379.3,457.3 380.3,457.2 380.8,456.8 381.3,458.2 382.3,457.9 383.3,457.7 384.3,459.8 385.3,459.9 386.3,459.3 387.3,459.2 388.3,459.8 389.3,458.9 390.3,460.6 391.3,460.8 392.3,461.0 393.3,461.1 394.3,462.3 394.4,461.9 395.3,462.2 396.3,462.3 397.3,461.9 398.3,461.8 399.3,461.6 400.3,462.7 401.3,463.4 402.3,463.2 403.3,463.7 404.3,463.0 405.3,463.3 406.3,463.3 407.3,463.3 408.0,464.9 408.3,464.5 409.3,463.9 410.3,463.8 411.3,464.1 412.3,463.3 413.3,464.3 414.3,463.7 415.3,464.5 416.3,465.0 417.3,465.2 418.3,465.3 419.3,465.2 420.0,465.0 420.3,465.1 421.3,465.2 422.3,465.6 423.3,466.5 424.3,466.2 425.3,465.5 426.3,465.8 427.3,465.4 428.2,466.7 428.3,466.5 429.3,465.5 430.3,465.8 431.0,465.6 431.3,463.9 432.3,464.2 433.3,464.2 434.0,463.6 434.3,464.3 435.3,464.8 436.3,465.7 437.0,465.9 437.3,466.9 438.3,466.0 439.0,466.8 439.3,466.2 440.3,466.1 441.3,465.3 442.3,465.1 443.3,465.6 444.3,466.6 445.3,467.0 446.3,466.4 447.3,466.4 448.3,465.7 449.3,466.5 450.3,466.2 451.3,466.0 452.3,466.0 453.3,465.9 454.3,466.2 455.3,466.1 456.3,466.0 457.3,466.2 458.3,466.2 459.3,466.2 460.3,466.2 461.3,466.1 462.3,466.2 463.3,466.4 464.3,466.6 465.3,466.0 466.3,466.2 467.3,466.2 468.3,465.9 469.3,466.1 470.3,465.9 471.3,466.3 472.3,466.2 473.3,466.3 474.3,466.4 475.3,466.2 476.3,466.0 477.3,466.1 478.3,466.3 479.3,466.2 480.3,466.3 481.3,466.0 482.3,466.2 483.3,466.3 484.3,466.3 485.3,466.6 486.3,466.5 487.3,466.4 488.3,466.3 489.3,466.6 490.3,466.4 491.3,466.6 492.3,466.6 493.3,466.7 494.3,466.6 495.3,466.4 496.3,466.4 497.3,466.5 498.3,466.2 499.3,466.5 500.0,466.5 500.3,466.5 501.3,466.4 502.3,466.5 503.3,466.3 504.3,466.4 505.3,466.3 506.3,466.4 507.3,466.3 508.3,466.4 509.3,466.5 510.3,466.2 511.3,466.5 512.3,466.2 513.3,466.2 514.3,466.5 515.3,466.4 516.3,466.5 517.3,466.1 518.3,466.3 519.3,466.5 520.3,466.7 521.3,466.4 522.3,466.5 523.3,466.3 524.3,466.3 525.3,466.5 526.3,466.5 527.3,466.4 528.3,466.3 529.3,466.4 530.3,466.6 531.3,466.5 532.3,466.6 533.3,466.4 534.3,466.6 535.3,466.4 536.3,466.6 537.3,466.5 538.3,466.3 539.3,466.4 540.3,466.3 541.3,466.4 542.3,466.6 543.3,466.6 544.3,466.3 545.3,466.7 546.3,466.5 547.3,466.3 548.3,466.4 549.3,466.3 550.3,466.4 551.3,466.3 552.3,466.6 553.3,466.6 554.3,466.4 555.3,466.7 556.3,466.7 557.3,466.6 558.3,466.5 559.3,466.5 560.3,466.4 561.3,466.4 562.3,466.6 563.3,466.2 564.3,466.4 565.3,466.4 566.3,466.4 567.3,466.4 568.3,466.4 569.3,466.4 570.3,466.5 571.3,466.5 572.3,466.4 573.3,466.9 574.3,466.5 575.3,466.5 576.3,466.4 577.3,466.4 578.3,466.6 579.3,466.4 580.0,466.5 580.3,466.5 581.3,466.3 582.3,466.6 583.3,466.4 584.3,466.9 585.3,466.5 586.3,466.5 587.3,466.4 588.3,466.4 589.3,466.5 590.3,466.3 591.3,466.3 592.3,466.4 593.3,466.4 594.3,466.6 595.3,466.2 596.3,466.3 597.3,466.6 598.3,467.0 599.0,467.3 599.3,467.5 600.3,467.7 601.3,467.6 602.3,467.6 603.3,467.7 604.3,467.6 605.3,467.4 606.3,467.5 607.3,467.4 608.3,467.6 609.3,467.7 610.3,467.6 611.3,467.5 612.3,467.8 613.3,467.7 614.3,467.9 615.3,467.4 616.3,467.5 617.3,467.4 618.3,467.6 619.3,467.6 620.3,467.6 621.3,467.6 622.3,467.6 623.3,467.7 624.3,467.7 625.3,467.7 626.3,467.7 627.3,467.6 628.3,467.5 629.3,467.4 630.3,467.4 631.3,467.5 632.3,467.7 633.3,467.6 634.3,467.4 635.3,467.5 636.3,467.2 637.3,467.3 638.3,467.4 639.3,467.4 640.0,467.1 640.3,467.2 641.3,467.4 642.3,467.3 643.3,467.3 644.3,467.4 645.3,467.6 646.3,467.5 647.3,467.6 648.3,467.6 649.3,467.4 650.3,467.5 651.3,467.5 652.3,467.4 653.3,467.4 654.3,467.5 655.3,467.3 656.3,467.3 657.3,467.1 658.3,467.6 659.3,467.5 660.3,467.4 661.3,467.4 662.3,467.3 663.3,467.5 664.3,467.4 664.5,467.2 665.3,468.4 665.5,468.5 666.3,468.3 667.3,468.4 668.3,468.3 669.3,468.5 670.3,468.5 671.3,468.2 672.3,468.6 673.3,468.3 674.3,468.5 675.3,468.6 676.3,468.4 677.3,468.5 678.3,468.5 679.3,468.4 680.3,468.3 681.3,468.2 682.3,468.2 683.3,468.2 684.3,468.3 685.3,468.2 686.3,468.5 687.3,468.3 688.3,468.4 689.3,468.4 690.3,468.4 691.3,468.5 692.3,468.3 693.3,468.1 694.3,468.4 695.3,468.4 696.3,468.4 697.3,468.3 698.3,468.3 699.3,468.3 700.3,468.3 701.3,468.1 701.7,468.3"/>
</svg>
<div class="t" style="right:751.4px;top:259.6px;font-size:15px;text-align:right;-webkit-text-stroke:0.25px #000;transform:scaleX(1.08);transform-origin:right center">0</div>
<div class="t" style="right:751.4px;top:287.2px;font-size:15px;text-align:right;-webkit-text-stroke:0.25px #000;transform:scaleX(1.08);transform-origin:right center">-20</div>
<div class="t" style="right:751.4px;top:313.7px;font-size:15px;text-align:right;-webkit-text-stroke:0.25px #000;transform:scaleX(1.08);transform-origin:right center">-40</div>
<div class="t" style="right:751.4px;top:341.4px;font-size:15px;text-align:right;-webkit-text-stroke:0.25px #000;transform:scaleX(1.08);transform-origin:right center">-60</div>
<div class="t" style="right:751.4px;top:368.4px;font-size:15px;text-align:right;-webkit-text-stroke:0.25px #000;transform:scaleX(1.08);transform-origin:right center">-80</div>
<div class="t" style="right:751.4px;top:396.0px;font-size:15px;text-align:right;-webkit-text-stroke:0.25px #000;transform:scaleX(1.08);transform-origin:right center">-100</div>
<div class="t" style="right:751.4px;top:422.6px;font-size:15px;text-align:right;-webkit-text-stroke:0.25px #000;transform:scaleX(1.08);transform-origin:right center">-120</div>
<div class="t" style="right:751.4px;top:450.4px;font-size:15px;text-align:right;-webkit-text-stroke:0.25px #000;transform:scaleX(1.08);transform-origin:right center">-140</div>
<div class="t" style="right:751.4px;top:477.0px;font-size:15px;text-align:right;-webkit-text-stroke:0.25px #000;transform:scaleX(1.08);transform-origin:right center">-160</div>
<div class="t" style="right:751.4px;top:504.6px;font-size:15px;text-align:right;-webkit-text-stroke:0.25px #000;transform:scaleX(1.08);transform-origin:right center">-180</div>
<div class="t" style="left:109.8px;top:414px;font-size:15.5px;transform:rotate(-90deg);transform-origin:left top">dBc/Hz</div>
<div class="t" style="left:138.3px;width:100px;text-align:center;top:525.5px;font-size:14px;-webkit-text-stroke:0.2px #000">10Hz</div>
<div class="t" style="left:210.2px;width:100px;text-align:center;top:525.5px;font-size:14px;-webkit-text-stroke:0.2px #000">100Hz</div>
<div class="t" style="left:289.0px;width:100px;text-align:center;top:525.5px;font-size:14px;-webkit-text-stroke:0.2px #000">1KHz</div>
<div class="t" style="left:368.9px;width:100px;text-align:center;top:525.5px;font-size:14px;-webkit-text-stroke:0.2px #000">10KHz</div>
<div class="t" style="left:446.7px;width:100px;text-align:center;top:525.5px;font-size:14px;-webkit-text-stroke:0.2px #000">100KHz</div>
<div class="t" style="left:525.6px;width:100px;text-align:center;top:525.5px;font-size:14px;-webkit-text-stroke:0.2px #000">1MHz</div>
<div class="t" style="left:604.5px;width:100px;text-align:center;top:525.5px;font-size:14px;-webkit-text-stroke:0.2px #000">10MHz</div>
<div class="t" style="left:674.8px;width:100px;text-align:center;top:525.5px;font-size:14px;-webkit-text-stroke:0.2px #000">100MHz</div>
<div class="a" style="left:760px;top:520px;width:1px;height:24.5px;background:#fff"></div>
<div class="a" style="left:268.8px;top:241.5px;width:344.8px;height:38.6px;border:1.5px solid #1a1a1a;background:#fff"></div>
<div class="a" style="left:278.6px;top:261px;width:29.5px;height:2px;background:#000080"></div>
<div class="t" style="left:311.8px;top:253.6px;font-size:17.5px;transform:scaleX(1.0);transform-origin:left center">Fund</div>
<div class="a" style="left:367px;top:261px;width:29.5px;height:2px;background:#ff00ff"></div>
<div class="t" style="left:400.3px;top:253.6px;font-size:17.5px;transform:scaleX(1.047);transform-origin:left center">3OT</div>
<div class="a" style="left:450px;top:261px;width:29.5px;height:2px;background:#ffff00"></div>
<div class="t" style="left:483.3px;top:253.6px;font-size:17.5px;transform:scaleX(1.076);transform-origin:left center">PLL</div>
<div class="a" style="left:532px;top:261px;width:29.5px;height:2px;background:#ff0000"></div>
<div class="t" style="left:565.2px;top:253.6px;font-size:17.5px;transform:scaleX(1.089);transform-origin:left center">SAW</div>
<div class="t" style="left:195.5px;top:304.5px;font-size:17px;font-weight:bold;font-style:italic;line-height:22px;transform:scaleX(1.098);transform-origin:left top">By Fundamental, 3rd Overtone, PLL and SAW solutions;<br>each has unique advantages over performance and cost.</div>
</body></html>
